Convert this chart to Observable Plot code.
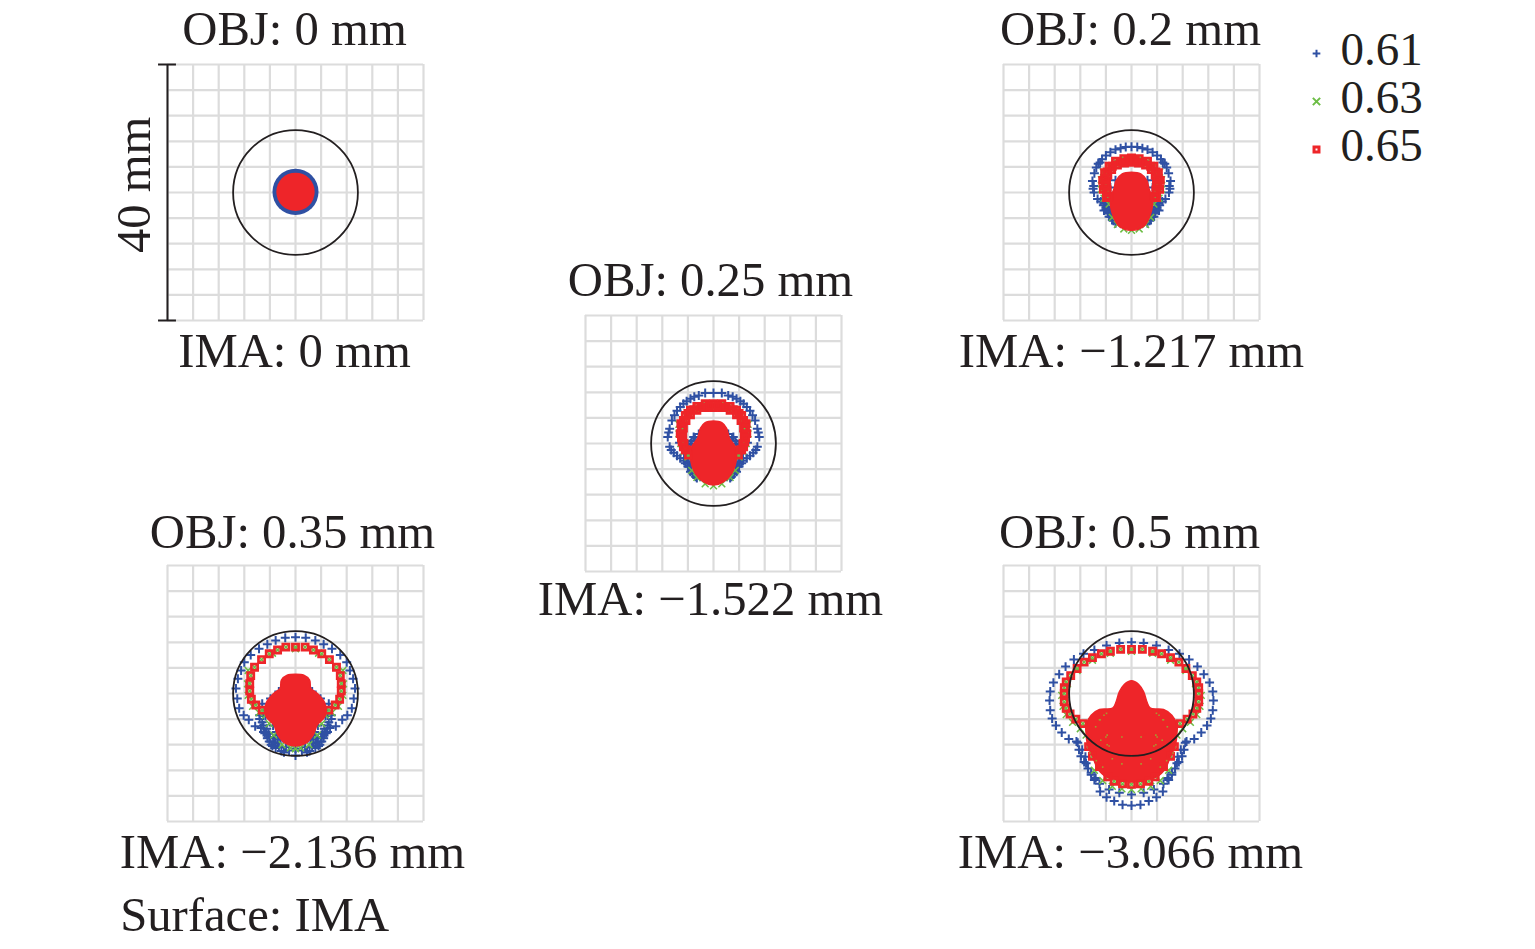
<!DOCTYPE html>
<html>
<head>
<meta charset="utf-8">
<script src="https://cdn.jsdelivr.net/npm/d3@7"></script>
<script src="https://cdn.jsdelivr.net/npm/@observablehq/plot@0.6"></script>
<style>
html,body{margin:0;padding:0;background:#fff;width:1535px;height:949px;overflow:hidden}
svg{position:absolute;background:transparent;overflow:visible}
</style>
</head>
<body>
<div id="chart"></div>
<script>
// Labels
const wavelengths = ["0.61", "0.63", "0.65"];
const objLabels = ["OBJ: 0 mm", "OBJ: 0.25 mm", "OBJ: 0.2 mm", "OBJ: 0.35 mm", "OBJ: 0.5 mm"];
const imaLabels = ["IMA: 0 mm", "IMA: \u22121.522 mm", "IMA: \u22121.217 mm", "IMA: \u22122.136 mm", "IMA: \u22123.066 mm"];
const surfaceLabel = "Surface: IMA";
const scaleLabel = "40 mm";
const gridTicks = [-20, -16, -12, -8, -4, 0, 4, 8, 12, 16, 20];
const airyRadius = 9.75;

// Spots, in mm from the panel centre; the diagrams are mirror-symmetric, right half listed.
// Panel OBJ 0: round spots, radius in mm
const discBlue0 = 3.6, discRed0 = 3.0;

// Panel OBJ 0.25
const blue25 = [[0,7.9],[1.3,7.9],[2.3,7.5],[3.6,7.0],[4.7,6.2],[5.7,5.1],[6.5,3.6],[6.85,2.3],[7.15,1],[6.85,-0.5],[6.2,-1.45],[5.2,-2.3],[4.1,-3.1],[3.6,-4.4],[2.6,-5.4],[3.1,1.0],[3.6,0],[4.7,-1],[3.9,-2],[3.4,-3.1],[2.85,-4.1],[2.1,-5.2],[5.3,0.1],[6.1,4.4],[5.2,5.7],[4.2,6.6],[3.0,7.3],[7.0,1.7],[6.6,-1],[5.7,-1.9],[4.6,-2.7],[4.3,-1.5],[3.8,-3.6],[3.1,-4.8],[4.4,-3.1],[4.0,-3.6],[3.2,-4.7],[2.8,-5.2],[4.6,-2.3],[3.9,-2.8],[3.5,-3.4],[3.1,-4.2],[2.3,1.5],[2.9,0.9],[3.4,0.4],[4.0,-0.2]];
const green25 = [[0,-6.6],[1.3,-6.3],[2.6,-5.3],[3.4,-4.2],[5.4,3],[5.4,1.5],[5.1,0],[4.6,-1.2],[4.0,-2.1]];
const red25 = [[0,6.2],[1.3,6.2],[2.6,5.8],[3.6,5.2],[4.4,4.4],[5.1,3.1],[5.2,1.55],[4.9,0.25],[4.4,-1.0],[3.9,-1.8],[0,5.6],[1.3,5.6],[2.6,5.2],[3.6,4.5],[4.3,3.6],[4.7,2.4],[4.8,1.2],[4.6,0],[4.2,-1],[0.65,5.9],[1.95,5.7],[3.1,5.3],[4.0,4.7],[4.7,3.6],[5.0,2.4],[5.0,0.9],[4.7,-0.5]];
const blob25 = [[0,3.5],[1.3,3.25],[2.05,2.35],[2.5,0.8],[3.4,-0.5],[3.6,-2.3],[2.85,-4.65],[1.55,-6],[0,-6.5]];

// Panel OBJ 0.2
const blue20 = [[0,7.15],[1.7,6.9],[3.3,6.3],[4.6,5.2],[5.5,3.9],[6.1,1.8],[5.85,0],[5.3,-1],[4.3,-1.65],[4.3,-2.8],[3.5,-3.8],[2.5,-4.8],[2.5,1.9],[3.3,0.8],[4.0,-2.3],[3.3,-2.8],[2.9,-3.6],[2.0,-4.4],[5.9,1.0],[4.9,4.7],[2.5,6.7],[0.9,7.1],[4.0,5.8],[5.2,4.5],[5.8,3.0],[6.0,0.6],[4.8,-1.4],[3.7,-3.3],[3.0,-4.3],[4.4,-2],[4.0,-2.6],[3.6,-3.2],[3.2,-3.8],[2.8,-4.4],[4.1,-1.6],[3.7,-2.2],[3.3,-3.0]];
const green20 = [[0,-5.9],[1.2,-5.7],[2.2,-5],[3.0,-3.9],[3.5,-1.8],[4.3,-0.9],[4.7,0.5],[4.7,2],[4.4,3.2]];
const red20 = [[0,5.4],[1.2,5.3],[2.5,4.9],[3.5,4.1],[4.2,3.1],[4.5,1.9],[4.4,0.5],[3.9,-0.8],[0,4.7],[1.1,4.6],[2.2,4.3],[3.1,3.6],[3.7,2.7],[3.9,1.5],[3.8,0.4],[3.5,-0.6],[0.6,5.0],[1.8,4.7],[3.0,4.1],[3.8,3.2],[4.1,2.2],[4.1,1.1],[3.9,0],[3.6,-0.8]];
const blob20 = [[0,3.15],[1.45,2.9],[2.4,1.85],[2.75,0.55],[3.3,-1],[3.0,-3.3],[2.05,-5.15],[0.95,-5.8],[0,-5.9]];

// Panel OBJ 0.35
const blue35 = [[0,8.8],[1.6,8.7],[3.1,8.3],[4.4,7.7],[5.7,7.0],[7.0,6.0],[8.0,4.9],[8.5,3.6],[9.0,2.3],[9.3,0.8],[9.1,-0.8],[8.8,-2.3],[8.1,-3.4],[7.3,-4.1],[6.3,-5.1],[5.0,-6.0],[4.1,-7.5],[3.1,-8.5],[1.8,-9.2],[0,-9.7],[2.6,0.3],[3.9,-0.8],[5.2,-1.6],[4.7,-3.5],[5.2,-4.5],[5.6,-4],[4.5,-5.5],[4.2,-6.3],[3.5,-7.0],[2.8,-7.8],[1.5,-8.4],[3.5,-5.0],[3.0,-6.0],[2.4,-7.0],[1.5,-7.5],[0,-8.6],[3.8,-8],[5.0,-3],[5.6,-3.4],[5.0,-5],[4.6,-6],[4,-6.8],[3.3,-7.6],[2.6,-8.4],[1,-8.9],[4.4,-7],[3.6,-8.2],[2.2,-9],[3.2,-7],[2.8,-7.2],[5.4,-5.4],[4.8,-6.2]];
const green35 = [[7.4,3.6],[7.5,1.5],[7.4,-0.3],[6.7,-2],[5.7,-3],[4.7,-3.4],[4.1,-4.7],[3.4,-6.5],[2.1,-8],[0.8,-8.5],[0,-8.65],[0,7.0],[3.6,6.3]];
const red35 = [[0,7.25],[1.5,7.25],[2.8,6.8],[4.1,6.2],[5.3,5.3],[6.4,4.1],[7.0,2.8],[7.15,1.55],[7.15,0.4],[6.9,-0.9],[6.2,-1.8],[5.2,-2.6]];
const blob35 = [[0,3.0],[1.3,2.85],[2.2,2.1],[2.4,0.8],[3.4,0],[4.6,-1.55],[4.6,-3.6],[3.4,-4.9],[2.75,-6.5],[1.55,-7.8],[0,-8.2]];

// Panel OBJ 0.5
const blue50 = [[0,8.0],[1.9,7.9],[3.9,7.5],[5.8,6.8],[7.5,6.2],[9.0,5.3],[10.3,4.2],[11.3,3.0],[12.2,1.7],[12.7,0.3],[12.8,-1.1],[12.7,-2.6],[12.4,-3.9],[11.8,-5.0],[10.9,-6.1],[9.8,-7.1],[8.4,-7.7],[8.2,-8.8],[7.9,-9.8],[7.4,-10.7],[6.8,-11.7],[6.3,-12.7],[5.8,-13.5],[4.9,-15.3],[3.9,-16.2],[2.7,-16.8],[1.4,-17.4],[0,-17.5],[8.6,-7.5],[7.1,-10.9],[6.3,-12.4],[5.0,-14.1],[3.5,-15.0],[1.9,-15.5],[0,-15.8],[7.7,-8.8],[7.2,-9.9],[5.6,-13.2]];
const green50 = [[0,6.6],[3.3,6.3],[6.1,5.2],[8.5,3.6],[10.0,1.5],[10.9,-0.3],[10.7,-2],[10.2,-3.3],[9.2,-4.5],[8.0,-5.5],[7.1,-6.5],[0,-15.0],[1.5,-14.9],[3,-14.5],[4.5,-13.6],[5.8,-12]];
const red50 = [[0,6.9],[1.7,6.9],[3.3,6.6],[4.7,6.2],[6.1,5.6],[7.4,4.9],[8.5,3.9],[9.5,2.8],[10.2,1.8],[10.5,0.9],[10.5,0],[10.5,-1.3],[10.2,-2.3],[9.6,-3.2],[8.7,-4.0],[7.6,-4.7],[0,-14.2],[1.4,-14.1],[2.7,-13.7],[3.7,-13],[5,-11.4],[6.1,-9.8],[6.7,-8.3]];
const blob50 = [[0,2.0],[1.1,1.45],[1.9,0.25],[2.4,-1.3],[2.95,-2.3],[5,-2.5],[6.3,-3.4],[7.1,-4.9],[7.1,-6.2],[6.8,-8.3],[6.1,-9.8],[5.3,-11.7],[4,-13],[1.4,-13.6],[0,-13.7]];
const flecks50 = [[4.3,-3.4],[5.0,-4.1],[5.6,-5.2],[3.8,-6.5],[4.8,-7.3],[1.5,-6.8],[3.8,-8.0],[4.0,-6.8],[3.5,-8.2],[4.9,-4.1],[3.9,-3.1],[6.5,-9.3],[5.5,-10.5],[4.5,-11.5],[3,-10.2],[1.5,-11],[0,-9.8]];

// Colours
const BLUE = "#2f50a3", GREEN = "#6cbd45", RED = "#ee2529", INK = "#231f20", GRID = "#dcdcdc";
const FONT = "Liberation Serif", FS = 48.7, FS_LEGEND = 47;

// Reflect a right-half list of points onto the left.
const both = pts => pts.concat(pts.filter(p => p[0] !== 0).map(p => [-p[0], p[1]]));
const outline = pts => pts.concat(pts.slice().reverse().filter(p => p[0] !== 0).map(p => [-p[0], p[1]]));
const X = p => p[0], Y = p => p[1];

const PANEL = 256; // frame side, px
const M = {top: 60, bottom: 120, left: 140, right: 140};
const textStyle = {fontFamily: FONT, fontSize: FS, fill: INK, stroke: "none"};

function panel({index, left, top, blue = [], green = [], red = [], blob = [], flecks = [], discs = [], extras = [], objDx = 0, imaDx = 0, objDy = 0, imaDy = 0}) {
  const svg = Plot.plot({
    width: PANEL + M.left + M.right,
    height: PANEL + M.top + M.bottom,
    marginTop: M.top, marginBottom: M.bottom, marginLeft: M.left, marginRight: M.right,
    x: {domain: [-20, 20], axis: null},
    y: {domain: [-20, 20], axis: null},
    r: {type: "linear", domain: [0, 20], range: [0, PANEL / 2]},
    style: {background: "transparent"},
    marks: [
      Plot.ruleX(gridTicks, {stroke: GRID, strokeWidth: 2.2, strokeOpacity: 1}),
      Plot.ruleY(gridTicks, {stroke: GRID, strokeWidth: 2.2, strokeOpacity: 1}),
      discs.length ? Plot.dot(discs, {x: d => d.x, y: d => d.y, r: d => d.r, fill: d => d.color, stroke: "none"}) : null,
      Plot.dot(both(blue), {x: X, y: Y, symbol: "plus", r: 3.0, stroke: BLUE, strokeWidth: 2}),
      Plot.dot(both(green.concat(red)), {x: X, y: Y, symbol: "times", r: 3.2, stroke: GREEN, strokeWidth: 1.5}),
      blob.length ? Plot.line(outline(blob), {x: X, y: Y, fill: RED, stroke: RED, strokeWidth: 1.5, curve: "catmull-rom-closed"}) : null,
      Plot.dot(both(red), {x: X, y: Y, symbol: "square", r: 3.5, stroke: RED, strokeWidth: 2.7, fill: "none"}),
      flecks.length ? Plot.dot(both(flecks), {x: X, y: Y, symbol: "square", r: 0.9, fill: "#a79a2f", stroke: "none"}) : null,
      Plot.dot([airyRadius], {x: () => 0, y: () => 0, r: d => d, stroke: INK, strokeWidth: 1.8, fill: "none"}),
      Plot.text([objLabels[index]], {x: () => 0, y: () => 25.5, dx: objDx, dy: objDy, text: d => d, ...textStyle}),
      Plot.text([imaLabels[index]], {x: () => 0, y: () => -24.9, dx: imaDx, dy: imaDy, text: d => d, ...textStyle}),
      ...extras
    ]
  });
  svg.style.left = (left - M.left) + "px";
  svg.style.top = (top - M.top) + "px";
  return svg;
}

const host = document.getElementById("chart");

// Scale bar: one full panel height, on the left edge of the first panel
const barMarks = [
  Plot.ruleX([-20], {y1: -20, y2: 20, stroke: INK, strokeWidth: 2}),
  Plot.ruleY([-20, 20], {x1: -21.4, x2: -18.6, stroke: INK, strokeWidth: 2}),
  Plot.text([scaleLabel], {x: () => -25.2, y: () => 1.2, rotate: -90, text: d => d, ...textStyle})
];

host.append(
  panel({index: 0, left: 166.5, top: 63.5, discs: [{x: 0, y: 0.1, r: discBlue0, color: BLUE}, {x: 0, y: 0.1, r: discRed0, color: RED}], extras: barMarks, objDx: -1, imaDx: -1}),
  panel({index: 1, left: 584.5, top: 314.5, blue: blue25, green: green25, red: red25, blob: blob25, objDx: -3, imaDx: -3, imaDy: -3}),
  panel({index: 2, left: 1002.5, top: 63.5, blue: blue20, green: green20, red: red20, blob: blob20, objDx: -1, imaDx: 0}),
  panel({index: 3, left: 166.5, top: 564.5, blue: blue35, green: green35, red: red35, blob: blob35, objDx: -3, imaDx: -3, objDy: 2,
    extras: [Plot.text([surfaceLabel], {x: () => -27.4, y: () => -34.6, text: d => d, textAnchor: "start", ...textStyle})]}),
  panel({index: 4, left: 1002.5, top: 564.5, blue: blue50, green: green50, red: red50, blob: blob50, flecks: flecks50, objDx: -2, imaDx: -1, objDy: 2})
);

// Legend
const legend = Plot.plot({
  width: 160, height: 200,
  marginTop: 52, marginBottom: 51, marginLeft: 0, marginRight: 0,
  y: {type: "point", domain: wavelengths, padding: 0, axis: null},
  style: {background: "transparent"},
  marks: [
    Plot.dot(["0.61"], {y: d => d, frameAnchor: "left", dx: 26, symbol: "plus", r: 2.6, stroke: BLUE, strokeWidth: 2}),
    Plot.dot(["0.63"], {y: d => d, frameAnchor: "left", dx: 26, symbol: "times", r: 3.4, stroke: GREEN, strokeWidth: 2}),
    Plot.dot(["0.65"], {y: d => d, frameAnchor: "left", dx: 26, symbol: "square", r: 2.8, stroke: RED, strokeWidth: 3, fill: "none"}),
    Plot.text(wavelengths, {y: d => d, frameAnchor: "left", dx: 50, dy: -4, text: d => d, textAnchor: "start", ...textStyle, fontSize: FS_LEGEND})
  ]
});
legend.style.left = "1290px";
legend.style.top = "0px";
host.append(legend);
</script>
</body>
</html>
